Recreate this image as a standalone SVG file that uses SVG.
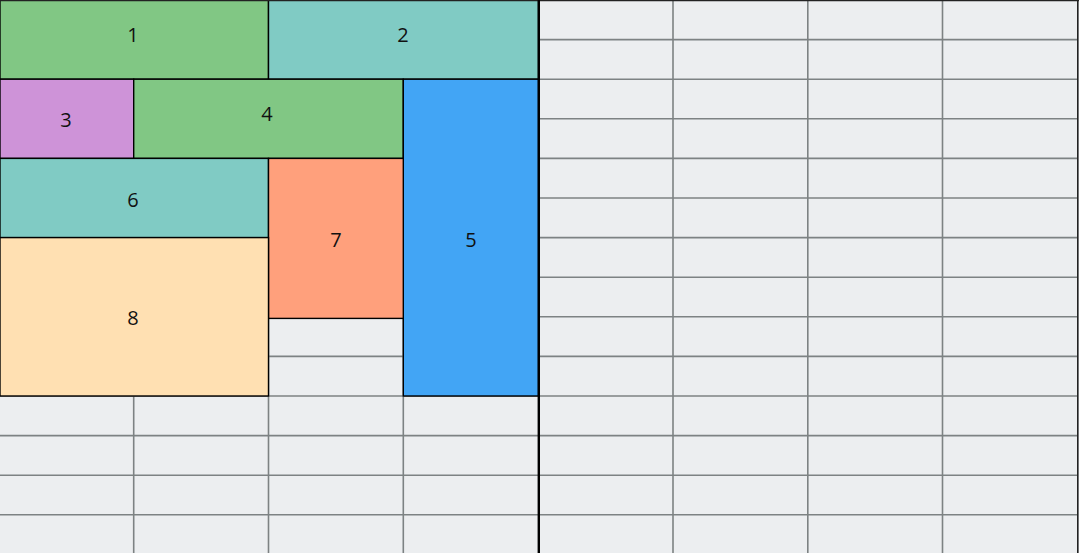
<svg xmlns="http://www.w3.org/2000/svg" width="1079" height="553" viewBox="0 0 1079 553">
<style>
.g{stroke:#7d8283;stroke-width:1.6;fill:none}
.b{stroke:#000;stroke-width:1.4}
.t{font-family:"Open Sans","DejaVu Sans",sans-serif;font-size:20px;fill:#111;text-anchor:middle;dominant-baseline:central}
</style>
<rect x="0" y="0" width="1079" height="553" fill="#ECEEF0"/>
<g id="grid" class="g">
<path d="M0 39.6H1078M0 79.2H1078M0 118.8H1078M0 158.4H1078M0 198H1078M0 237.6H1078M0 277.2H1078M0 316.8H1078M0 356.4H1078M0 396H1078M0 435.6H1078M0 475.2H1078M0 514.8H1078"/>
<path d="M133.7 0V553M268.5 0V553M403.3 0V553M673 0V553M807.8 0V553M942.5 0V553"/>
</g>
<g id="n1"><rect class="b" x="0" y="0" width="268.5" height="79.2" fill="#81C784"/><text class="t" x="133" y="34">1</text></g>
<g id="n2"><rect class="b" x="268.5" y="0" width="270" height="79.2" fill="#80CBC4"/><text class="t" x="403" y="34">2</text></g>
<g id="n3"><rect class="b" x="0" y="79.2" width="133.7" height="79.2" fill="#CE93D8"/><text class="t" x="66" y="119">3</text></g>
<g id="n4"><rect class="b" x="133.7" y="79.2" width="269.6" height="79.2" fill="#81C784"/><text class="t" x="267" y="113">4</text></g>
<g id="n5"><rect class="b" x="403.3" y="79.2" width="135.2" height="316.8" fill="#42A5F5"/><text class="t" x="471" y="239">5</text></g>
<g id="n6"><rect class="b" x="0" y="158.4" width="268.5" height="79.2" fill="#80CBC4"/><text class="t" x="133" y="199">6</text></g>
<g id="n7"><rect class="b" x="268.5" y="158.4" width="134.8" height="160" fill="#FFA07C"/><text class="t" x="336" y="239">7</text></g>
<g id="n8"><rect class="b" x="0" y="237.6" width="268.5" height="158.4" fill="#FFE0B2"/><text class="t" x="133" y="317">8</text></g>
<g id="borders">
<line x1="0" y1="0.5" x2="1079" y2="0.5" stroke="#222" stroke-width="1.5"/>
<line x1="1077.8" y1="0" x2="1077.8" y2="553" stroke="#222" stroke-width="1.6"/>
<line x1="538.8" y1="0" x2="538.8" y2="553" stroke="#000" stroke-width="2.4"/>
</g>
</svg>
